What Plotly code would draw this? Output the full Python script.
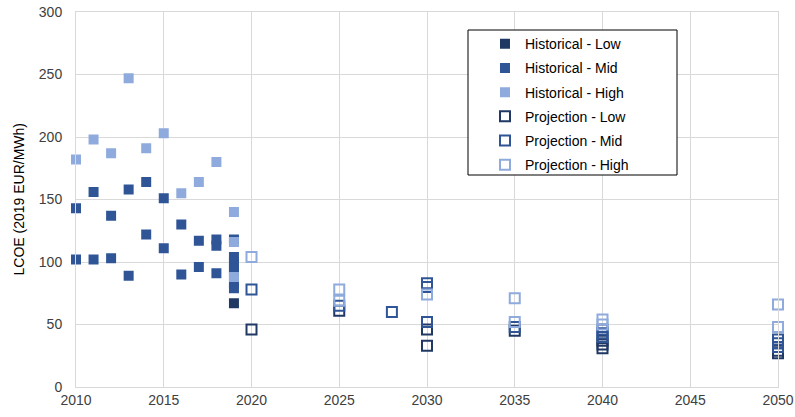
import plotly.graph_objects as go

# Historical LCOE points (year, value)
hist_low_year = [2019]
hist_low_val = [67]

hist_mid_year = [2010, 2010, 2011, 2011, 2012, 2012, 2013, 2013, 2014, 2014,
                 2015, 2015, 2016, 2016, 2017, 2017, 2018, 2018, 2018,
                 2019, 2019, 2019, 2019, 2019, 2019, 2019]
hist_mid_val = [143, 102, 156, 102, 137, 103, 158, 89, 164, 122,
                151, 111, 130, 90, 117, 96, 118, 113, 91,
                118, 104, 100, 95, 92, 83, 79]

hist_high_year = [2010, 2011, 2012, 2013, 2014, 2015, 2016, 2017, 2018, 2019, 2019, 2019]
hist_high_val = [182, 198, 187, 247, 191, 203, 155, 164, 180, 140, 116, 88]

# Projections
proj_low_year = [2020, 2025, 2030, 2030, 2035, 2040, 2040, 2040, 2050, 2050]
proj_low_val = [46, 61, 33, 46, 45, 31, 34, 37, 27, 29]

proj_mid_year = [2020, 2025, 2028, 2030, 2030, 2030, 2035, 2040, 2040, 2040, 2050, 2050, 2050]
proj_mid_val = [78, 65, 60, 83, 80, 52, 48, 40, 43, 46, 32, 35, 38]

proj_high_year = [2020, 2025, 2025, 2030, 2035, 2035, 2040, 2040, 2050, 2050]
proj_high_val = [104, 78, 69, 74, 71, 52, 54, 50, 66, 48]

C_LOW = "#203864"
C_MID = "#2F5597"
C_HIGH = "#8FAADC"
GRID = "#d9d9d9"

fig = go.Figure()

def add(name, xs, ys, col, hollow):
    if hollow:
        marker = dict(symbol="square-open", size=10, color=col, line=dict(width=2, color=col))
    else:
        marker = dict(symbol="square", size=10, color=col, line=dict(width=0))
    fig.add_trace(go.Scatter(x=xs, y=ys, mode="markers", name=name,
                             legendgroup=name, marker=marker, cliponaxis=False))

add("Historical - Low", hist_low_year, hist_low_val, C_LOW, False)
add("Historical - Mid", hist_mid_year, hist_mid_val, C_MID, False)
add("Historical - High", hist_high_year, hist_high_val, C_HIGH, False)
add("Projection - Low", proj_low_year, proj_low_val, C_LOW, True)
add("Projection - Mid", proj_mid_year, proj_mid_val, C_MID, True)
add("Projection - High", proj_high_year, proj_high_val, C_HIGH, True)

fig.update_layout(
    width=795, height=417,
    margin=dict(l=76, r=17, t=12, b=30),
    plot_bgcolor="white", paper_bgcolor="white",
    font=dict(family="Liberation Sans, Arial", size=14, color="#404040"),
    showlegend=True,
    legend=dict(
        x=0.5826, y=0.957, xanchor="left", yanchor="top",
        borderwidth=0, bgcolor="rgba(0,0,0,0)",
        font=dict(size=14, color="#000000"),
        tracegroupgap=3,
    ),
    xaxis=dict(range=[2010, 2050], dtick=5, tick0=2010,
               showgrid=True, gridcolor=GRID, gridwidth=1,
               zeroline=False, showline=True, mirror=True, linecolor=GRID,
               ticks="", automargin=False,
               tickfont=dict(size=14, color="#404040")),
    yaxis=dict(range=[0, 300], dtick=50,
               showgrid=True, gridcolor=GRID, gridwidth=1,
               zeroline=False, showline=True, mirror=True, linecolor=GRID,
               ticks="", automargin=False, ticklabelstandoff=10,
               tickfont=dict(size=14, color="#404040")),
    shapes=[dict(type="rect", xref="paper", yref="paper",
                 x0=(468 - 76) / 702, x1=(677 - 76) / 702,
                 y0=(387 - 175) / 375, y1=(387 - 30) / 375,
                 line=dict(color="black", width=1), fillcolor="white", layer="above")],
    annotations=[dict(text="LCOE (2019 EUR/MWh)", xref="paper", yref="paper",
                      x=(18 - 76) / 702, y=0.5, xanchor="center", yanchor="middle",
                      textangle=-90, showarrow=False,
                      font=dict(size=14, color="#000000"))],
)

fig.write_html("out.html", config={"displayModeBar": False},
               post_script="document.body.style.margin='0';")
